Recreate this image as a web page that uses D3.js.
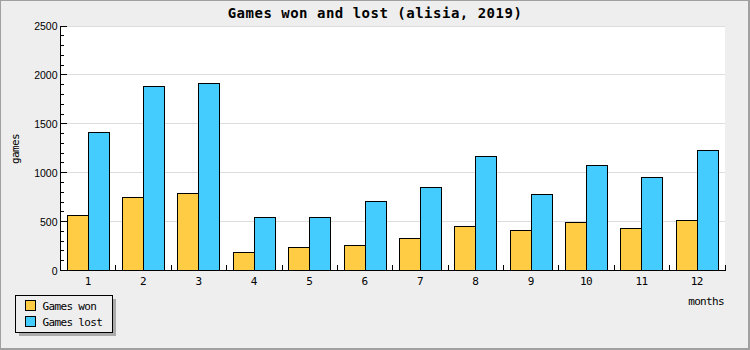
<!DOCTYPE html>
<html>
<head>
<meta charset="utf-8">
<script src="https://cdn.jsdelivr.net/npm/d3@7"></script>
<style>
  html, body { margin: 0; padding: 0; background: #eeeeee; }
  svg { display: block; }
  .mono { font-family: "DejaVu Sans Mono", monospace; font-size: 11px; letter-spacing: -0.65px; fill: #000; }
  .ytick { font-family: "Liberation Sans", Arial, sans-serif; font-size: 10.5px; fill: #000; }
</style>
</head>
<body>
<script>
// Monthly game results
const months = ["1", "2", "3", "4", "5", "6", "7", "8", "9", "10", "11", "12"];
const gamesWon = [560, 745, 785, 180, 232, 252, 325, 447, 406, 488, 426, 508];
const gamesLost = [1408, 1880, 1910, 540, 540, 702, 846, 1166, 775, 1070, 948, 1224];
const seriesNames = ["Games won", "Games lost"];
const seriesColors = ["#ffcc44", "#44ccff"];
const yMajorTicks = [0, 500, 1000, 1500, 2000, 2500];

const W = 750, H = 350;
const plot = { left: 60, right: 724.5, top: 25.5, bottom: 270 };

const svg = d3.select("body").append("svg")
  .attr("width", W).attr("height", H)
  .attr("shape-rendering", "crispEdges");

// page background and frame
svg.append("rect").attr("x", 0).attr("y", 0).attr("width", W).attr("height", H).attr("fill", "#eeeeee");
svg.append("rect").attr("x", 0.5).attr("y", 0.5).attr("width", W - 1.5).attr("height", H - 1.5)
  .attr("fill", "none").attr("stroke", "#a0a0a0").attr("stroke-width", 1.5);

// plot area
svg.append("rect")
  .attr("x", plot.left).attr("y", plot.top)
  .attr("width", plot.right - plot.left).attr("height", plot.bottom - plot.top)
  .attr("fill", "#ffffff");

const x = d3.scaleBand().domain(months).range([plot.left, plot.right]).paddingInner(0).paddingOuter(0);
const xInner = d3.scaleBand().domain(seriesNames).range([0, x.bandwidth()]).paddingInner(0).paddingOuter(0.317);
const y = d3.scaleLinear().domain([0, 2500]).range([plot.bottom, plot.top]);

// horizontal grid lines
svg.append("g").selectAll("line")
  .data(yMajorTicks.filter(v => v > 0))
  .join("line")
  .attr("x1", plot.left).attr("x2", plot.right)
  .attr("y1", d => Math.round(y(d)) + 0.5).attr("y2", d => Math.round(y(d)) + 0.5)
  .attr("stroke", "#dddddd").attr("stroke-width", 1);

// bars: each pair snapped to whole pixels so shared edges overlap exactly
const barW = Math.round(xInner.bandwidth());
const rows = months.map((m, i) => ({ month: m, values: [gamesWon[i], gamesLost[i]] }));
const groups = svg.append("g").selectAll("g")
  .data(rows).join("g");
groups.selectAll("rect")
  .data(d => d.values.map((v, k) => ({ month: d.month, k: k, name: seriesNames[k], value: v, color: seriesColors[k] })))
  .join("rect")
  .attr("x", d => Math.round(x(d.month) + xInner(seriesNames[0])) + d.k * barW + 0.5)
  .attr("width", barW)
  .attr("y", d => Math.round(y(d.value)) + 0.5)
  .attr("height", d => Math.round(y(0)) - Math.round(y(d.value)))
  .attr("fill", d => d.color)
  .attr("stroke", "#000").attr("stroke-width", 1);

// y axis
const yAxisG = svg.append("g").attr("transform", `translate(${plot.left + 0.5},0)`);
yAxisG.append("line").attr("x1", 0).attr("x2", 0).attr("y1", plot.top).attr("y2", plot.bottom)
  .attr("stroke", "#000");
const yMinor = d3.range(0, 2501, 100);
yAxisG.selectAll("line.tick").data(yMinor).join("line").attr("class", "tick")
  .attr("x1", 0).attr("x2", d => (d % 500 === 0 ? 6 : 3))
  .attr("y1", d => Math.round(y(d)) + 0.5).attr("y2", d => Math.round(y(d)) + 0.5)
  .attr("stroke", "#000");
yAxisG.selectAll("text").data(yMajorTicks).join("text")
  .attr("class", "ytick")
  .attr("x", -3).attr("y", d => y(d) + 0.5)
  .attr("text-anchor", "end").attr("dominant-baseline", "central")
  .text(d => d);

// x axis
const xAxisG = svg.append("g");
xAxisG.append("line").attr("x1", plot.left).attr("x2", plot.right + 1)
  .attr("y1", plot.bottom + 0.5).attr("y2", plot.bottom + 0.5).attr("stroke", "#000");
const xBoundaries = months.map(m => x(m)).concat([x(months[months.length - 1]) + x.bandwidth()]);
xAxisG.selectAll("line.tick").data(xBoundaries.slice(1)).join("line").attr("class", "tick")
  .attr("x1", d => Math.round(d) + 0.5).attr("x2", d => Math.round(d) + 0.5)
  .attr("y1", plot.bottom - 5).attr("y2", plot.bottom)
  .attr("stroke", "#000");
xAxisG.selectAll("text").data(months).join("text")
  .attr("class", "mono")
  .attr("x", d => x(d) + x.bandwidth() / 2)
  .attr("y", 285)
  .attr("text-anchor", "middle")
  .text(d => d);

// title
svg.append("text")
  .attr("x", 375).attr("y", 17.5)
  .attr("text-anchor", "middle")
  .style("font-family", "'DejaVu Sans Mono', monospace")
  .style("font-weight", "bold").style("font-size", "14px").style("letter-spacing", "0.5px")
  .text("Games won and lost (alisia, 2019)");

// axis titles
svg.append("text").attr("class", "mono")
  .attr("x", 724).attr("y", 305)
  .attr("text-anchor", "end")
  .text("months");
svg.append("text").attr("class", "mono")
  .attr("transform", "translate(19,149) rotate(-90)")
  .attr("text-anchor", "middle")
  .text("games");

// legend
const lg = svg.append("g");
lg.append("rect").attr("x", 19).attr("y", 299).attr("width", 97).attr("height", 37).attr("fill", "#aaaaaa");
lg.append("rect").attr("x", 15.5).attr("y", 295.5).attr("width", 97).attr("height", 37)
  .attr("fill", "#eeeeee").attr("stroke", "#000");
const items = lg.selectAll("g.item").data(seriesNames).join("g").attr("class", "item")
  .attr("transform", (d, i) => `translate(0,${i * 16})`);
items.append("rect").attr("x", 25.5).attr("y", 300.5).attr("width", 10).attr("height", 10)
  .attr("fill", (d, i) => seriesColors[i]).attr("stroke", "#000");
items.append("text").attr("class", "mono")
  .attr("x", 42.5).attr("y", 310)
  .text(d => d);
</script>
</body>
</html>
